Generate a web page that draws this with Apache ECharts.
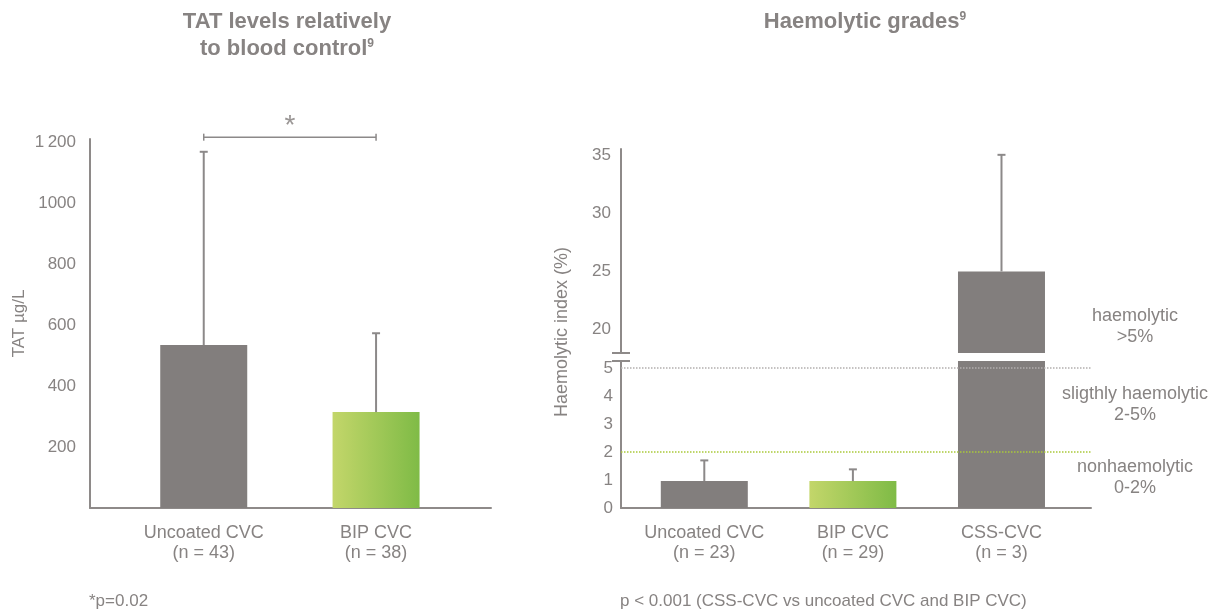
<!DOCTYPE html>
<html><head><meta charset="utf-8">
<script src="https://cdn.jsdelivr.net/npm/echarts@6/dist/echarts.min.js"></script>
<style>html,body{margin:0;padding:0;background:#fff}#c{width:1219px;height:610px}</style>
</head><body><div id="c"></div>
<script>
// ---- data: left panel (TAT) ----
const tatCategories = ['Uncoated CVC', 'BIP CVC'];
const tatCounts = ['(n = 43)', '(n = 38)'];
const tatMeans = [535, 315];
const tatUpper = [1170, 574];
const tatTickValues = [200, 400, 600, 800, 1000, 1200];
const tatTickLabels = ['200', '400', '600', '800', '1000', '1\u2009200'];
const tatSigLevel = 1218;
const tatSigMark = '*';
const tatFootnote = '*p=0.02';

// ---- data: right panel (haemolytic index) ----
const haemoCategories = ['Uncoated CVC', 'BIP CVC', 'CSS-CVC'];
const haemoCounts = ['(n = 23)', '(n = 29)', '(n = 3)'];
const haemoMeans = [0.96, 0.96, 25.0];
const haemoUpper = [1.70, 1.38, 35.0];
const haemoLowTicks = [0, 1, 2, 3, 4, 5];
const haemoHighTicks = [20, 25, 30, 35];
const haemoThresholds = [2, 5];
const haemoGrades = ['nonhaemolytic\n0-2%', 'sligthly haemolytic\n2-5%', 'haemolytic\n>5%'];
const haemoFootnote = 'p < 0.001 (CSS-CVC vs uncoated CVC and BIP CVC)';

// ---- styles ----
const FONT = 'Liberation Sans, Arial, sans-serif';
const TEXT = '#878382';
const AXIS = '#8e8a89';
const GREY = '#827e7d';
const ERR = '#8c8989';
const green = () => new echarts.graphic.LinearGradient(0, 0, 1, 0, [
  {offset: 0, color: '#c3d66a'}, {offset: 1, color: '#7fbb46'}]);
const colorFor = name => name.indexOf('BIP') === 0 ? green() : GREY;
const thresholdColors = ['#a9c93a', '#b3afae'];

// axis extents (layout)
const tatX = [0.34, 2.667], tatY = [0, 1212];
const hX = [0.4394, 3.6024], hHigh = [18, 35.5], hLow = [0, 5.25];

function errRender(params, api) {
  const x = api.value(0), m = api.value(1), u = api.value(2);
  const p0 = api.coord([x, m]), p1 = api.coord([x, u]);
  const st = {stroke: ERR, lineWidth: 2};
  return {type: 'group', children: [
    {type: 'line', shape: {x1: p0[0], y1: p0[1], x2: p1[0], y2: p1[1]}, style: st},
    {type: 'line', shape: {x1: p1[0] - 4, y1: p1[1], x2: p1[0] + 4, y2: p1[1]}, style: st}
  ]};
}
function sigRender(params, api) {
  const a = api.coord([api.value(0), api.value(2)]);
  const b = api.coord([api.value(1), api.value(2)]);
  const st = {stroke: ERR, lineWidth: 1.5};
  return {type: 'group', children: [
    {type: 'line', shape: {x1: a[0], y1: a[1], x2: b[0], y2: b[1]}, style: st},
    {type: 'line', shape: {x1: a[0], y1: a[1] - 3.5, x2: a[0], y2: a[1] + 3.5}, style: st},
    {type: 'line', shape: {x1: b[0], y1: b[1] - 3.5, x2: b[0], y2: b[1] + 3.5}, style: st},
    {type: 'text', x: (a[0] + b[0]) / 2, y: a[1] - 11,
     style: {text: tatSigMark, align: 'center', verticalAlign: 'middle', fontSize: 28,
             fontFamily: FONT, fill: '#9a9695'}}
  ]};
}
function breakRender(params, api) {
  const p = api.coord([api.value(0), api.value(1)]);
  return {type: 'line', shape: {x1: p[0] - 9, y1: p[1], x2: p[0] + 9, y2: p[1]},
          style: {stroke: AXIS, lineWidth: 2}};
}

const axisLine = {show: true, lineStyle: {color: AXIS, width: 2}};
const tickLabel = {color: TEXT, fontSize: 17, fontFamily: FONT};
const catLabel = {color: TEXT, fontSize: 18, fontFamily: FONT, lineHeight: 20};

const tatBars = tatMeans.map((v, i) => ({value: [i + 1, v], itemStyle: {color: colorFor(tatCategories[i])}}));
const tatErr = tatMeans.map((v, i) => [i + 1, v, tatUpper[i]]);
const hBars = haemoMeans.map((v, i) => ({value: [i + 1, v], itemStyle: {color: colorFor(haemoCategories[i])}}));
const hErr = haemoMeans.map((v, i) => [i + 1, v, haemoUpper[i]]);

const option = {
  animation: false,
  title: [
    {text: '{a|TAT levels relatively}\n{a|to blood control}{s|9}', left: 287, top: 8, textAlign: 'center', padding: 0,
     textStyle: {rich: {a: {fontSize: 22, fontWeight: 'bold', color: TEXT, fontFamily: FONT, lineHeight: 27},
                        s: {fontSize: 12, fontWeight: 'bold', color: TEXT, fontFamily: FONT, verticalAlign: 'top', lineHeight: 12, padding: [3, 0, 0, 0]}}}},
    {text: '{a|Haemolytic grades}{s|9}', left: 865, top: 8, textAlign: 'center', padding: 0,
     textStyle: {rich: {a: {fontSize: 22, fontWeight: 'bold', color: TEXT, fontFamily: FONT, lineHeight: 27},
                        s: {fontSize: 12, fontWeight: 'bold', color: TEXT, fontFamily: FONT, verticalAlign: 'top', lineHeight: 12, padding: [3, 0, 0, 0]}}}}
  ],
  grid: [
    {left: 90, top: 139, width: 401, height: 369},
    {left: 621, top: 149, width: 470, height: 204},
    {left: 621, top: 361, width: 470, height: 147}
  ],
  xAxis: [
    {gridIndex: 0, type: 'value', min: tatX[0], max: tatX[1], axisLine, axisTick: {show: false}, splitLine: {show: false},
     axisLabel: Object.assign({customValues: tatCategories.map((c, i) => i + 1), margin: 15,
       formatter: v => tatCategories[Math.round(v) - 1] + '\n' + tatCounts[Math.round(v) - 1]}, catLabel)},
    {gridIndex: 1, type: 'value', min: hX[0], max: hX[1], show: false, splitLine: {show: false}},
    {gridIndex: 2, type: 'value', min: hX[0], max: hX[1], axisLine, axisTick: {show: false}, splitLine: {show: false},
     axisLabel: Object.assign({customValues: haemoCategories.map((c, i) => i + 1), margin: 15,
       formatter: v => haemoCategories[Math.round(v) - 1] + '\n' + haemoCounts[Math.round(v) - 1]}, catLabel)}
  ],
  yAxis: [
    {gridIndex: 0, type: 'value', min: tatY[0], max: tatY[1], axisLine, axisTick: {show: false}, splitLine: {show: false},
     name: 'TAT µg/L', nameLocation: 'middle', nameGap: 62, nameTextStyle: {color: TEXT, fontSize: 17, fontFamily: FONT},
     axisLabel: Object.assign({customValues: tatTickValues, margin: 14,
       formatter: v => tatTickLabels[tatTickValues.indexOf(v)]}, tickLabel)},
    {gridIndex: 1, type: 'value', min: hHigh[0], max: hHigh[1], axisLine, axisTick: {show: false}, splitLine: {show: false},
     axisLabel: Object.assign({customValues: haemoHighTicks, margin: 10}, tickLabel)},
    {gridIndex: 2, type: 'value', min: hLow[0], max: hLow[1], axisLine, axisTick: {show: false}, splitLine: {show: false},
     axisLabel: Object.assign({customValues: haemoLowTicks, margin: 8}, tickLabel)}
  ],
  series: [
    {type: 'bar', xAxisIndex: 0, yAxisIndex: 0, barWidth: 87, data: tatBars, clip: true},
    {type: 'custom', xAxisIndex: 0, yAxisIndex: 0, renderItem: errRender, data: tatErr, clip: true, z: 3},
    {type: 'custom', xAxisIndex: 0, yAxisIndex: 0, renderItem: sigRender, data: [[1, 2, tatSigLevel]], clip: false, z: 3},

    {type: 'bar', xAxisIndex: 1, yAxisIndex: 1, barWidth: 87, data: hBars, clip: true},
    {type: 'custom', xAxisIndex: 1, yAxisIndex: 1, renderItem: errRender, data: hErr, clip: true, z: 3},
    {type: 'custom', xAxisIndex: 1, yAxisIndex: 1, renderItem: breakRender, data: [[hX[0], hHigh[0]]], clip: false, z: 4},

    {type: 'bar', xAxisIndex: 2, yAxisIndex: 2, barWidth: 87, data: hBars, clip: true,
     markLine: {silent: true, symbol: 'none', label: {show: false},
       data: haemoThresholds.map((t, i) => ({yAxis: t, lineStyle: {color: thresholdColors[i], type: 'dotted', width: 1.5}}))}},
    {type: 'custom', xAxisIndex: 2, yAxisIndex: 2, renderItem: errRender, data: hErr, clip: true, z: 3},
    {type: 'custom', xAxisIndex: 2, yAxisIndex: 2, renderItem: breakRender, data: [[hX[0], hLow[1]]], clip: false, z: 4}
  ],
  graphic: [
    {type: 'text', x: 562, y: 332, rotation: Math.PI / 2,
     style: {text: 'Haemolytic index (%)', align: 'center', verticalAlign: 'middle', fontSize: 18, fontFamily: FONT, fill: TEXT}},
    {type: 'text', x: 1135, y: 478, style: {text: haemoGrades[0], align: 'center', verticalAlign: 'middle', fontSize: 18, lineHeight: 21, fontFamily: FONT, fill: TEXT}},
    {type: 'text', x: 1135, y: 405, style: {text: haemoGrades[1], align: 'center', verticalAlign: 'middle', fontSize: 18, lineHeight: 21, fontFamily: FONT, fill: TEXT}},
    {type: 'text', x: 1135, y: 327, style: {text: haemoGrades[2], align: 'center', verticalAlign: 'middle', fontSize: 18, lineHeight: 21, fontFamily: FONT, fill: TEXT}},
    {type: 'text', x: 89, y: 601, style: {text: tatFootnote, align: 'left', verticalAlign: 'middle', fontSize: 17, fontFamily: FONT, fill: TEXT}},
    {type: 'text', x: 620, y: 601, style: {text: haemoFootnote, align: 'left', verticalAlign: 'middle', fontSize: 17, fontFamily: FONT, fill: TEXT}}
  ]
};
const chart = echarts.init(document.getElementById('c'), null, {renderer: 'canvas'});
chart.setOption(option);
</script></body></html>
